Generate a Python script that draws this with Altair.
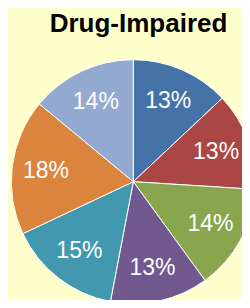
import altair as alt
import pandas as pd

# Data
slices = ["Slice 1", "Slice 2", "Slice 3", "Slice 4", "Slice 5", "Slice 6", "Slice 7"]
shares = [13, 13, 14, 13, 15, 18, 14]
labels = ["13%", "13%", "14%", "13%", "15%", "18%", "14%"]
colors = ["#4572A7", "#AA4643", "#89A54E", "#71588F", "#4198AF", "#DB843D", "#93A9CF"]
title_text = "Drug-Impaired"

df = pd.DataFrame({
    "slice": slices,
    "share": shares,
    "label": labels,
    "idx": list(range(len(slices))),
})

CX, CY = 125.3, 143.7

base = alt.Chart(df).encode(
    theta=alt.Theta("share:Q", stack=True),
    order=alt.Order("idx:Q"),
)

arc = base.mark_arc(radius=122, stroke="white", strokeWidth=1, x=CX, y=CY).encode(
    color=alt.Color("slice:N", scale=alt.Scale(domain=slices, range=colors), legend=None),
)

text = base.mark_text(
    radius=88, fontSize=23, color="white", font="Liberation Sans",
    align="center", baseline="middle", x=CX, y=CY,
).encode(text="label:N")

chart = alt.layer(arc, text).properties(
    width=234,
    height=262,
    autosize="none",
    padding={"left": 0, "right": 0, "top": 30, "bottom": 0},
    background="#FFFFCC",
    title=alt.TitleParams(
        text=title_text,
        font="Liberation Sans",
        fontSize=26,
        fontWeight="bold",
        color="black",
        anchor="middle",
        frame="group",
        baseline="alphabetic",
        offset=6,
        dx=13.5,
        dy=26,
    ),
).configure_view(stroke=None)

chart.save("out.html", embed_options={"renderer": "svg", "actions": False})
